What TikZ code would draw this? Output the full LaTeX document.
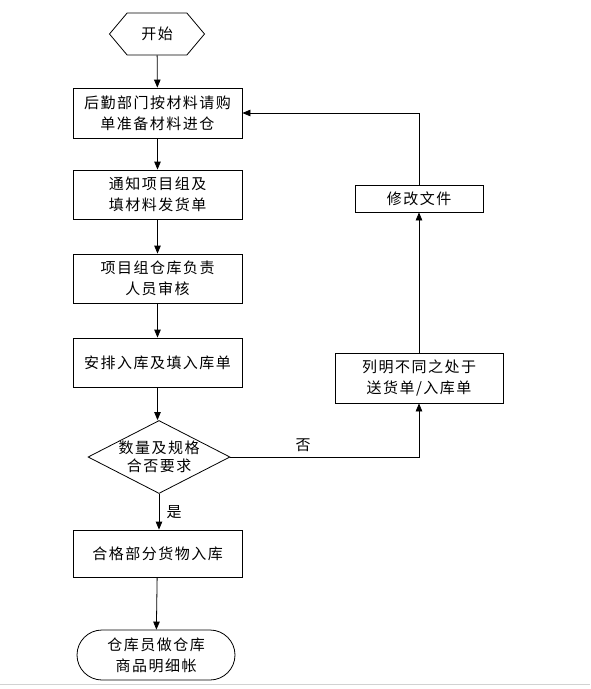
\documentclass[tikz,border=0pt]{standalone}
\usepackage{fontspec}
\newfontfamily\cjk[LetterSpace=10]{Noto Sans CJK SC}
\usetikzlibrary{arrows.meta,shapes.geometric,shapes.symbols,shapes.misc}

\begin{document}
\begin{tikzpicture}[x=1pt,y=-1pt,line width=.8pt,
  every node/.style={font=\cjk\fontsize{15}{21}\selectfont},
  stepbox/.style={draw,rectangle,align=center,minimum width=169,inner sep=0pt},
  startbox/.style={draw,signal,signal to=west and east,signal pointer angle=100,minimum width=95,minimum height=42,inner sep=0pt},
  endbox/.style={draw,rounded rectangle,align=center,minimum width=158,minimum height=50,inner sep=0pt},
  decision/.style={draw,diamond,minimum width=142,minimum height=73,inner sep=0pt},
  arr/.style={-{Triangle[length=8pt,width=6.5pt]}}]
\useasboundingbox (0,0) rectangle (590,689);
\draw[gray!35,line width=1pt] (0,684)--(590,684);
% main column
\node[startbox] (start) at (157,34) {开始};
\node[stepbox,minimum height=50] (buy) at (157.5,113) {后勤部门按材料请购\\单准备材料进仓};
\node[stepbox,minimum height=49] (notify) at (157.5,194.5) {通知项目组及\\填材料发货单};
\node[stepbox,minimum height=49] (audit) at (157.5,278.5) {项目组仓库负责\\人员审核};
\node[stepbox,minimum height=49] (enter) at (157.5,362.5) {安排入库及填入库单};
\node[decision,label={[align=center,font=\cjk\fontsize{15}{18}\selectfont]center:数量及规格\\合否要求}] (check) at (159,457) {};
\node[stepbox,minimum height=47] (store) at (157.5,553.5) {合格部分货物入库};
\node[endbox] (ledger) at (156,655) {仓库员做仓库\\商品明细帐};
% right column
\node[stepbox,minimum width=128,minimum height=27] (modify) at (419,198.5) {修改文件};
\node[stepbox,minimum width=168,minimum height=50] (diff) at (419,378) {列明不同之处于\\送货单/入库单};
\draw[arr] (start)--(buy);
\draw[arr] (buy)--(notify);
\draw[arr] (notify)--(audit);
\draw[arr] (audit)--(enter);
\draw[arr] (enter.south)--(enter.south|-check.north);
\draw[arr] (check.south)--(check.south|-store.north) node[midway,right=4pt] {是};
\draw[arr] (store)--(ledger);
\draw[arr] (check.east)-|(diff.south);
\node at (303,445) {否};
\draw[arr] (diff)--(modify);
\draw[arr] (modify.north)|-(buy.east);
\end{tikzpicture}
\end{document}
